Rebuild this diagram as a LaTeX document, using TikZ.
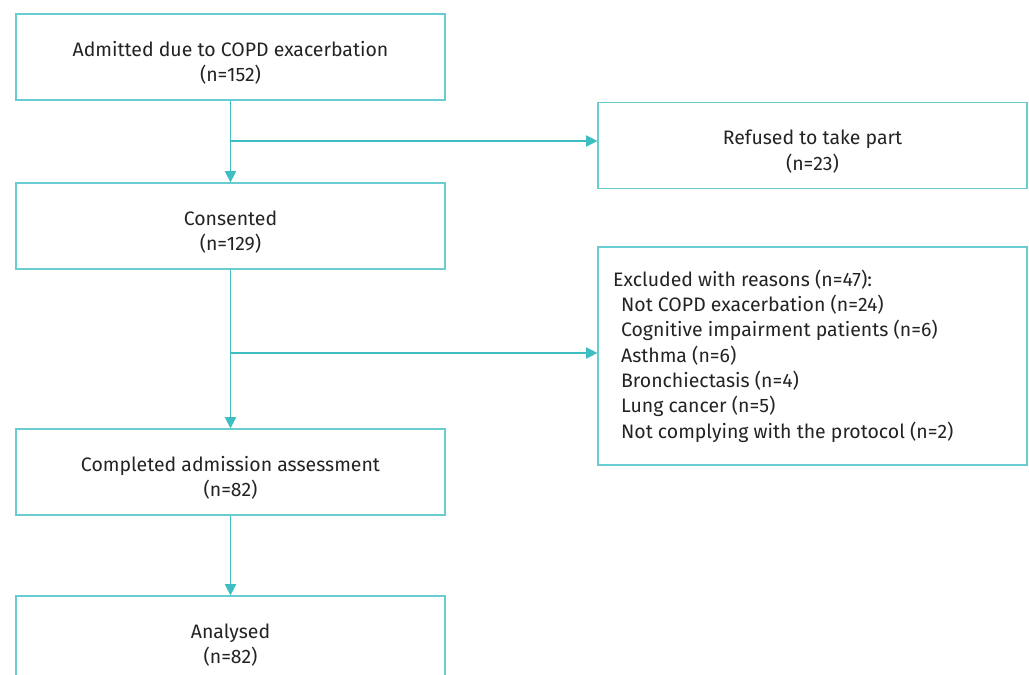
\documentclass[tikz,border=0pt]{standalone}
\usepackage{fontspec}
\setmainfont{Fira Sans}
\usetikzlibrary{arrows.meta}
\definecolor{flowteal}{RGB}{62,190,195}
\definecolor{boxteal}{RGB}{104,205,208}
\definecolor{inktext}{RGB}{35,35,35}
\tikzset{
  flowbox/.style={draw=boxteal, line width=0.9pt, minimum width=321.75pt, minimum height=64.5pt, inner sep=0pt},
  flowtext/.style={text=inktext, align=center, font=\fontsize{14.6}{19}\selectfont, yshift=-4.5pt},
  flowarrow/.style={draw=flowteal, line width=0.8pt, -{Triangle[length=8.5pt, width=8.5pt]}}
}
\begin{document}
\begin{tikzpicture}[x=0.75pt,y=0.75pt,yscale=-1,xscale=1]
\useasboundingbox (0,0) rectangle (1029,675);

% Text Node
\node [flowbox, label={[flowtext]center:Admitted due to COPD exacerbation\\(n=152)}] (admitted) at (230.5,57) {};
% Text Node
\node [flowbox, label={[flowtext]center:Refused to take part\\(n=23)}] (refused) at (812.5,145.5) {};
% Text Node
\node [flowbox, label={[flowtext]center:Consented\\(n=129)}] (consented) at (230.5,226) {};
% Text Node
\node [flowbox, minimum height=163.5pt, label={[flowtext, align=left, anchor=west, xshift=8.25pt, yshift=4.5pt]west:Excluded with reasons (n=47):\\
\hspace*{6pt}Not COPD exacerbation (n=24)\\
\hspace*{6pt}Cognitive impairment patients (n=6)\\
\hspace*{6pt}Asthma (n=6)\\
\hspace*{6pt}Bronchiectasis (n=4)\\
\hspace*{6pt}Lung cancer (n=5)\\
\hspace*{6pt}Not complying with the protocol (n=2)}] (excluded) at (812.5,356) {};
% Text Node
\node [flowbox, label={[flowtext]center:Completed admission assessment\\(n=82)}] (completed) at (230.5,472) {};
% Text Node
\node [flowbox, label={[flowtext]center:Analysed\\(n=82)}] (analysed) at (230.5,639) {};

%Straight Lines
\coordinate (split1) at (230.5,141);
\coordinate (split2) at (230.5,353);
\draw [flowarrow] (admitted) -- (consented);
\draw [flowarrow] (split1) -- (split1 -| refused.west);
\draw [flowarrow] (consented) -- (completed);
\draw [flowarrow] (split2) -- (split2 -| excluded.west);
\draw [flowarrow] (completed) -- (analysed);

\end{tikzpicture}
\end{document}
